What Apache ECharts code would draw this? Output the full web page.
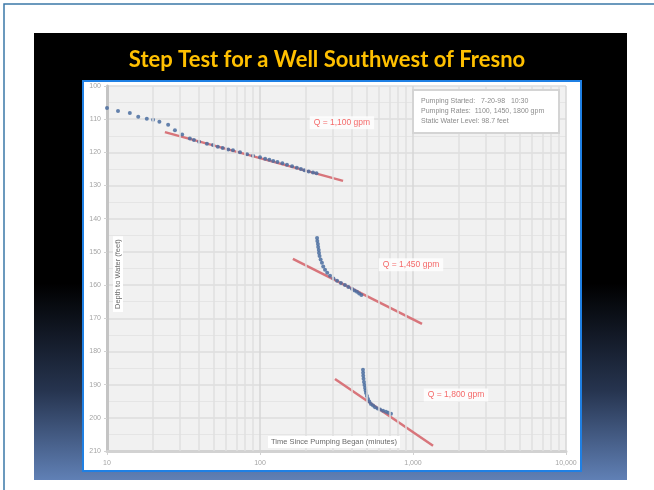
<!DOCTYPE html>
<html lang="en">
<head>
<meta charset="UTF-8" />
<title>Step Test for a Well Southwest of Fresno</title>
<script src="https://cdn.jsdelivr.net/npm/echarts@6/dist/echarts.min.js"></script>
<style>
html, body { margin: 0; padding: 0; background: #fff; }
#main { width: 654px; height: 490px; }
</style>
</head>
<body>
<div id="main"></div>
<script type="text/javascript">
// axis ranges
var xMin = 10, xMax = 10000;
var yMin = 100, yMax = 210, yStep = 10;
// log-cycle gridlines (2..9 in each decade)
var minorX = [20, 30, 40, 50, 60, 70, 80, 90,
	200, 300, 400, 500, 600, 700, 800, 900,
	2000, 3000, 4000, 5000, 6000, 7000, 8000, 9000];

// measured water levels: [minutes, feet]
var step1 = [[10, 106.6], [11.8, 107.5], [14.1, 108.1], [16, 109.3], [18.2, 109.9],
	[20, 110.2], [22, 110.8], [25.1, 111.7], [27.8, 113.3], [31, 114.6], [34.8, 115.8],
	[37, 116.3], [40, 116.8], [45, 117.4], [49.3, 117.8], [53, 118.3], [57, 118.7],
	[62, 119.1], [66.6, 119.4], [74, 120.0], [82.3, 120.6], [90, 121.0], [100, 121.5],
	[108, 121.9], [115, 122.2], [122, 122.6], [130, 122.9], [140, 123.3], [150, 123.7],
	[162, 124.2], [174, 124.6], [185, 125.0], [195, 125.4], [208, 125.8], [222, 126.1],
	[234, 126.3]];
var step2 = [[236, 145.8], [237, 146.7], [239, 147.6], [240, 148.5], [242, 149.4],
	[243, 150.3], [245, 151.2], [249, 152.3], [254, 153.3], [259, 154.4], [266, 155.4],
	[275, 156.3], [287, 157.2], [302, 158.0], [319, 158.7], [338, 159.4], [359, 160.0],
	[378, 160.6], [399, 161.1], [415, 161.6], [430, 162.0], [445, 162.5], [460, 163.0]];
var step3 = [[471, 185.5], [472, 186.4], [473, 187.3], [475, 188.2], [478, 189.2],
	[482, 190.1], [486, 191.0], [490, 191.8], [493, 192.5], [500, 193.4], [508, 194.3],
	[518, 195.1], [531, 195.8], [548, 196.3], [565, 196.8], [587, 197.2], [609, 197.5],
	[637, 197.9], [666, 198.2], [690, 198.5], [718, 198.8]];

// straight-line fits on semi-log paper
var fit1 = [[23.9, 113.9], [349, 128.6]];
var fit2 = [[164, 152.1], [1145, 171.7]];
var fit3 = [[309, 188.3], [1352, 208.4]];

// pumping rate notes
var rateText = ['Q = 1,100 gpm', 'Q = 1,450 gpm', 'Q = 1,800 gpm'];
var ratePos = [[343, 111.1], [970, 153.9], [1910, 193.1]];

var infoLines = ['Pumping Started:   7-20-98   10:30',
	'Pumping Rates:  1100, 1450, 1800 gpm',
	'Static Water Level: 98.7 feet'];

var myChart = echarts.init(document.getElementById('main'));

function fitSeries(d) {
	return { type: 'line', data: d, symbol: 'none', silent: true, z: 3,
		lineStyle: { color: '#d8757b', width: 2.5 } };
}
function stepSeries(d) {
	return { type: 'scatter', data: d, symbol: 'circle', symbolSize: 4, z: 4,
		itemStyle: { color: '#4a6da0', opacity: 0.85 } };
}

var option = {
	animation: false,
	graphic: [
		{ type: 'rect', z: -20, shape: { x: 0, y: 0, width: 654, height: 490 },
			style: { fill: '#fff' } },
		{ type: 'polyline', z: -19, shape: { points: [[4, 490], [4, 4], [654, 4]] },
			style: { stroke: '#3b78a8', lineWidth: 1.5, fill: null } },
		{ type: 'rect', z: -18, shape: { x: 34, y: 33, width: 593, height: 447 },
			style: { fill: new echarts.graphic.LinearGradient(0, 0, 0, 1, [
				{ offset: 0, color: '#000' },
				{ offset: 0.56, color: '#000' },
				{ offset: 0.8, color: '#26344f' },
				{ offset: 1, color: '#6080b5' }
			]) } },
		{ type: 'text', z: 10, left: 'center', top: 49,
			style: { text: 'Step Test for a Well Southwest of Fresno', fill: '#ffc000',
				font: 'bold 22px Lato, "Open Sans", sans-serif' } },
		{ type: 'rect', z: -17, shape: { x: 83, y: 81, width: 498, height: 390 },
			style: { fill: '#fff', stroke: '#1f80e4', lineWidth: 2 } },
		// notes box
		{ type: 'rect', z: 20, shape: { x: 413, y: 90, width: 146, height: 43 },
			style: { fill: '#fff', stroke: '#d4d4d4', lineWidth: 2 } },
		{ type: 'text', z: 21, left: 421, top: 96,
			style: { text: infoLines.join('\n'), fill: '#8c8c8c', lineHeight: 10,
				font: '7px "Liberation Sans", sans-serif' } },
		// axis titles inside the plot
		{ type: 'text', z: 21, left: 268, top: 436,
			style: { text: 'Time Since Pumping Began (minutes)', fill: '#6b6b6b',
				backgroundColor: '#fff', padding: [2, 3],
				font: '7.5px "Liberation Sans", sans-serif' } },
		{ type: 'text', z: 21, x: 113, y: 312, rotation: Math.PI / 2,
			style: { text: 'Depth to Water (feet)', fill: '#6b6b6b',
				backgroundColor: '#fff', padding: [1, 3],
				font: '7.5px "Liberation Sans", sans-serif' } }
	],
	grid: {
		left: 107, top: 86, right: 88, bottom: 39,
		show: true, backgroundColor: '#f1f1f1', borderWidth: 0
	},
	xAxis: {
		type: 'log', logBase: 10, min: xMin, max: xMax,
		axisLine: { lineStyle: { color: '#d2d2d2', width: 3 } },
		axisTick: { show: true, length: 4, lineStyle: { color: '#d2d2d2' } },
		axisLabel: { color: '#a5a5a5', fontSize: 7, margin: 9,
			formatter: function (v) { return Number(v).toLocaleString('en-US'); } },
		splitLine: { lineStyle: { color: '#d6d6d6', width: 1.5 } }
	},
	yAxis: {
		type: 'value', inverse: true, min: yMin, max: yMax, interval: yStep,
		axisLine: { show: true, lineStyle: { color: '#c4c4c4', width: 3 } },
		axisTick: { show: true, length: 3, lineStyle: { color: '#d2d2d2' } },
		axisLabel: { color: '#a5a5a5', fontSize: 7, margin: 6 },
		splitLine: { lineStyle: { color: '#dcdcdc', width: 1.5 } },
		minorTick: { show: false, splitNumber: 2 },
		minorSplitLine: { show: true, lineStyle: { color: '#e5e5e5', width: 1 } }
	},
	series: [
		{ type: 'line', data: [], silent: true, z: 1,
			markLine: { silent: true, symbol: 'none', label: { show: false },
				lineStyle: { color: '#dfdfdf', width: 1.5, type: 'solid' },
				data: minorX.map(function (v) { return { xAxis: v }; }) } },
		fitSeries(fit1), fitSeries(fit2), fitSeries(fit3),
		stepSeries(step1), stepSeries(step2), stepSeries(step3),
		{ type: 'scatter', z: 22, symbolSize: 0, silent: true,
			data: ratePos.map(function (p, i) { return { value: p, name: rateText[i] }; }),
			label: { show: true, position: 'inside', formatter: '{b}',
				color: '#f24545', fontSize: 8.5, backgroundColor: '#fff',
				padding: [2, 4], fontFamily: '"Liberation Sans", sans-serif' } }
	]
};

myChart.setOption(option);
</script>
</body>
</html>
